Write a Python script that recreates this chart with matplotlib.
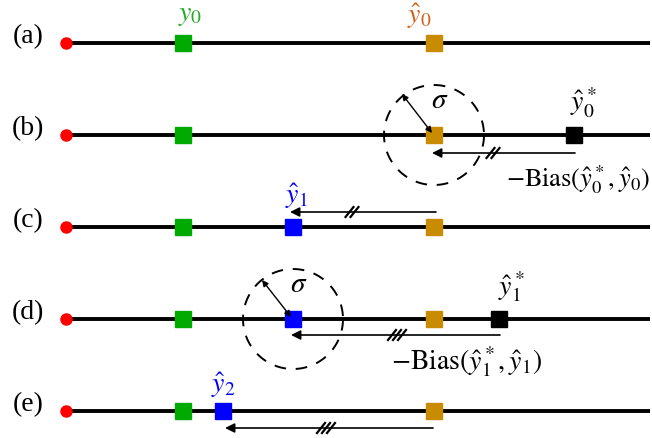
import matplotlib
matplotlib.use('Agg')
import matplotlib.pyplot as plt
import numpy as np

plt.rcParams['font.family'] = ['Liberation Serif', 'DejaVu Serif']
plt.rcParams['mathtext.fontset'] = 'stix'

# pixel-space layout of the diagram (x to the right, y downwards)
row_names = ['(a)', '(b)', '(c)', '(d)', '(e)']
row_y = [43, 135, 227, 319, 411]
origin_x = 66
line_end = 650
y0_x = 183          # green: ground truth
yhat0_x = 434       # gold: initial estimate
biased_x = {1: 574, 3: 499}          # black squares in (b) and (d)
blue_x = {2: 293, 3: 293, 4: 223}    # blue squares in (c), (d), (e)

# correction arrows: row, start x, end x, arrow y, hatch x, hatch count
arrows = [(1, 575, 432, 153, 493, 2),
          (2, 436, 290, 212, 352, 2),
          (3, 500, 291, 335, 397, 3),
          (4, 433, 225, 428, 326, 3)]

# sigma circles: centre x, row, radius, radius arrow tip
circles = [(434, 1, 50, (402, 94)), (293, 3, 50, (262, 280))]

green = '#00aa00'
gold = '#c98c00'
blue = '#0000ff'

fig = plt.figure(figsize=(6.52, 4.38), dpi=100)
ax = fig.add_axes([0, 0, 1, 1])
ax.set_xlim(0, 652)
ax.set_ylim(438, 0)
ax.axis('off')

for i, (name, y) in enumerate(zip(row_names, row_y)):
    ax.plot([origin_x, line_end], [y, y], color='black', lw=2.8, zorder=1,
            solid_capstyle='butt')
    ax.plot(origin_x, y, 'o', color='red', ms=8, zorder=3)
    ax.text(28, y - 6, name, fontsize=20, ha='center', va='center')
    ax.plot(y0_x, y, 's', color=green, ms=12, zorder=3)
    ax.plot(yhat0_x, y, 's', color=gold, ms=12, zorder=3)
    if i in biased_x:
        ax.plot(biased_x[i], y, 's', color='black', ms=12, zorder=3)
    if i in blue_x:
        ax.plot(blue_x[i], y, 's', color=blue, ms=12, zorder=3)

for row, x0, x1, ya, hx, nh in arrows:
    ax.annotate('', xy=(x1, ya), xytext=(x0, ya),
                arrowprops=dict(arrowstyle='-|>', color='black', lw=1.2,
                                mutation_scale=14, shrinkA=0, shrinkB=0))
    for k in range(nh):
        xs = hx + (k - (nh - 1) / 2) * 5
        ax.plot([xs - 4, xs + 4], [ya + 5, ya - 5], color='black', lw=1.6)

for cx, row, r, tip in circles:
    cy = row_y[row]
    t = np.linspace(0, 2 * np.pi, 200)
    ax.plot(cx + r * np.cos(t), cy + r * np.sin(t), color='black', lw=1.4,
            linestyle=(0, (6, 5)))
    ax.annotate('', xy=(cx - 2, cy - 2), xytext=tip,
                arrowprops=dict(arrowstyle='<|-|>', color='black', lw=1.0,
                                mutation_scale=9, shrinkA=0, shrinkB=0))
    ax.text(cx + 6, cy - 34, r'$\sigma$', fontsize=21, ha='center',
            va='center')

fs = 20
ax.text(190, 16, r'$y_0$', color='#22aa22', fontsize=fs, ha='center',
        va='center')
ax.text(419, 16, r'$\hat{y}_0$', color='#d2601a', fontsize=fs, ha='center',
        va='center')
ax.text(583, 103, r'$\hat{y}_0^*$', fontsize=fs, ha='center', va='center')
ax.text(650, 180, r'$-\mathrm{Bias}(\hat{y}_0^*, \hat{y}_0)$', fontsize=19,
        ha='right', va='center')
ax.text(297, 196, r'$\hat{y}_1$', color=blue, fontsize=fs, ha='center',
        va='center')
ax.text(511, 287, r'$\hat{y}_1^*$', fontsize=fs, ha='center', va='center')
ax.text(391, 362, r'$-\mathrm{Bias}(\hat{y}_1^*, \hat{y}_1)$', fontsize=fs,
        ha='left', va='center')
ax.text(223, 385, r'$\hat{y}_2$', color=blue, fontsize=fs, ha='center',
        va='center')

fig.savefig('out.png', dpi=100)
